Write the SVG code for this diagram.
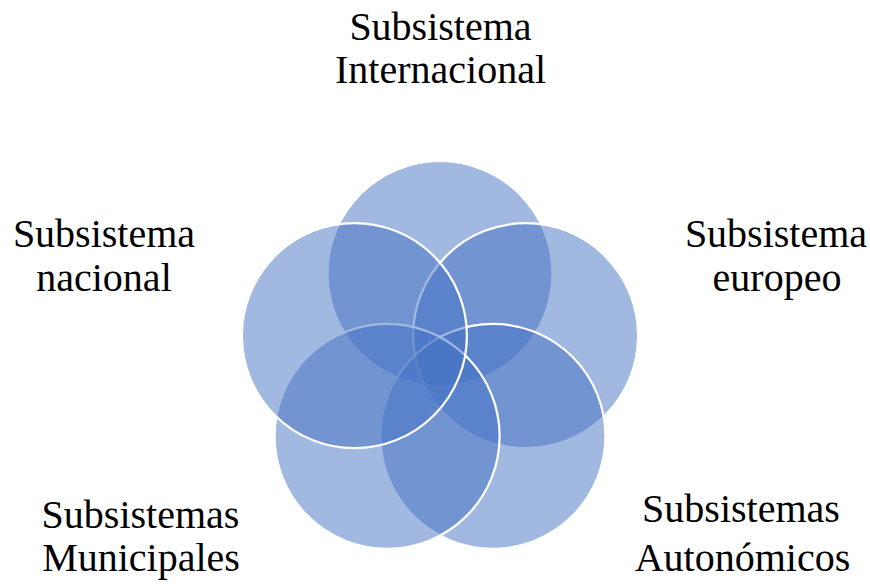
<svg xmlns="http://www.w3.org/2000/svg" width="870" height="586" viewBox="0 0 870 586">
  <style>
    .ring { fill: #4472C4; fill-opacity: 0.5; stroke: #FFFFFF; stroke-width: 2.2; }
    text { font-family: 'Liberation Serif', 'DejaVu Serif', serif; font-size: 40px; fill: #000000; text-anchor: middle; }
  </style>
  <rect x="0" y="0" width="870" height="586" fill="#FFFFFF"/>

  <!-- five overlapping subsystems, drawn clockwise from the top -->
  <g id="internacional">
    <circle class="ring" cx="440" cy="273.5" r="112.5"/>
    <text x="440.5" y="40">Subsistema</text>
    <text x="440.5" y="83.3">Internacional</text>
  </g>
  <g id="europeo">
    <circle class="ring" cx="525.6" cy="335.7" r="112.5"/>
    <text x="776" y="246.7">Subsistema</text>
    <text x="777" y="290.7">europeo</text>
  </g>
  <g id="autonomicos">
    <circle class="ring" cx="492.9" cy="436.3" r="112.5"/>
    <text x="741" y="521.7">Subsistemas</text>
    <text x="742.5" y="570.7">Autonómicos</text>
  </g>
  <g id="municipales">
    <circle class="ring" cx="387.1" cy="436.3" r="112.5"/>
    <text x="140.5" y="528.3">Subsistemas</text>
    <text x="141" y="570.7">Municipales</text>
  </g>
  <g id="nacional">
    <circle class="ring" cx="354.4" cy="335.7" r="112.5"/>
    <text x="104" y="246.7">Subsistema</text>
    <text x="104" y="290.7">nacional</text>
  </g>

  <g id="connectors"/>
</svg>
